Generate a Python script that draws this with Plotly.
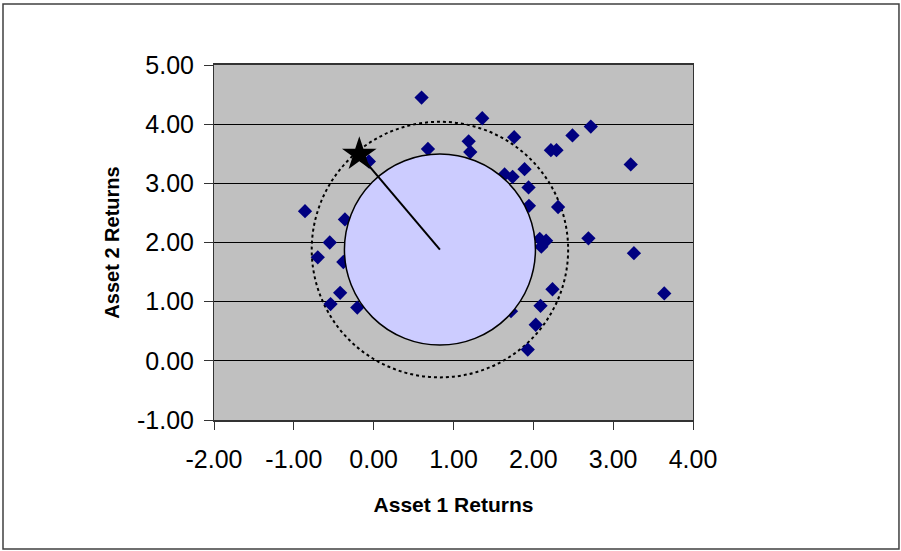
import plotly.graph_objects as go

# ---- data ----
asset1_returns = [0.60, 0.68, -0.06, -0.86, -0.36, -0.55, -0.70, -0.38, -0.42, -0.54, -0.205,
                  1.36, 2.72, 1.19, 1.76, 2.49, 1.21, 2.22, 2.29, 3.22, 1.64, 1.74, 1.89,
                  1.94, 1.945, 2.31, 2.08, 2.16, 2.10, 2.69, 3.26, 3.64, 2.24, 2.09, 2.03,
                  1.93, 1.72]
asset2_returns = [4.45, 3.58, 3.37, 2.53, 2.39, 2.00, 1.75, 1.67, 1.15, 0.96, 0.90,
                  4.10, 3.96, 3.71, 3.78, 3.81, 3.53, 3.56, 3.56, 3.32, 3.15, 3.11, 3.24,
                  2.93, 2.62, 2.60, 2.06, 2.03, 1.93, 2.07, 1.82, 1.14, 1.21, 0.93, 0.61,
                  0.19, 0.84]
center_x = [0.83]
center_y = [1.88]
star_x = [-0.18]
star_y = [3.49]
outer_radius_x = 1.606
outer_radius_y = 2.16
x_ticks = [-2, -1, 0, 1, 2, 3, 4]
y_ticks = [-1, 0, 1, 2, 3, 4, 5]
x_tick_labels = ["-2.00", "-1.00", "0.00", "1.00", "2.00", "3.00", "4.00"]
y_tick_labels = ["-1.00", "0.00", "1.00", "2.00", "3.00", "4.00", "5.00"]

FONT = "Liberation Sans, Arial, sans-serif"

fig = go.Figure()

fig.add_trace(go.Scatter(
    x=asset1_returns, y=asset2_returns, mode="markers",
    marker=dict(symbol="diamond", size=11, color="#000080", line=dict(width=0)),
    showlegend=False, hoverinfo="x+y"))

# inner circle (drawn over the points)
fig.add_trace(go.Scatter(
    x=center_x, y=center_y, mode="markers",
    marker=dict(symbol="circle", size=191, color="#CCCCFF",
                line=dict(color="black", width=1.5)),
    showlegend=False, hoverinfo="skip"))

# radius line from center to star
fig.add_trace(go.Scatter(
    x=[center_x[0], star_x[0]], y=[center_y[0], star_y[0]], mode="lines",
    line=dict(color="black", width=2), showlegend=False, hoverinfo="skip"))

# star
fig.add_trace(go.Scatter(
    x=star_x, y=star_y, mode="markers",
    marker=dict(symbol="star", size=26, color="black", line=dict(width=0)),
    showlegend=False, hoverinfo="x+y"))

# dotted outer circle
fig.add_shape(type="circle", xref="x", yref="y",
              x0=center_x[0] - outer_radius_x, x1=center_x[0] + outer_radius_x,
              y0=center_y[0] - outer_radius_y, y1=center_y[0] + outer_radius_y,
              line=dict(color="black", width=2, dash="dot"), layer="below")

# outer frame of the chart
fig.add_shape(type="rect", xref="paper", yref="paper",
              x0=-0.4405, x1=1.430, y0=-0.3634, y1=1.1718,
              line=dict(color="#404040", width=1.5), layer="below")

fig.update_xaxes(
    range=[-2, 4], tickvals=x_ticks, ticktext=x_tick_labels,
    showgrid=False, zeroline=False, showline=True, linecolor="#333333", linewidth=2,
    mirror=True, ticks="outside", ticklen=8, tickcolor="#333333", tickwidth=1,
    ticklabelstandoff=8,
    tickfont=dict(family=FONT, size=25, color="black"),
    title=dict(text="<b>Asset 1 Returns</b>", font=dict(family=FONT, size=21, color="black"),
               standoff=25))
fig.update_yaxes(
    range=[-1, 5], tickvals=y_ticks, ticktext=y_tick_labels,
    showgrid=True, gridcolor="black", gridwidth=1, zeroline=False,
    showline=True, linecolor="#333333", linewidth=1, mirror=True,
    ticks="outside", ticklen=9, tickcolor="#333333", tickwidth=1,
    ticklabelstandoff=5,
    tickfont=dict(family=FONT, size=25, color="black"),
    title=dict(text="<b>Asset 2 Returns</b>", font=dict(family=FONT, size=20, color="black"),
               standoff=12))

fig.update_layout(
    width=901, height=551,
    margin=dict(l=214, r=208, t=65, b=131),
    paper_bgcolor="white", plot_bgcolor="#C0C0C0",
    showlegend=False)

fig.write_html("out.html",
               config={"displayModeBar": False},
               post_script="document.body.style.margin='0px';document.body.style.overflow='hidden';")
